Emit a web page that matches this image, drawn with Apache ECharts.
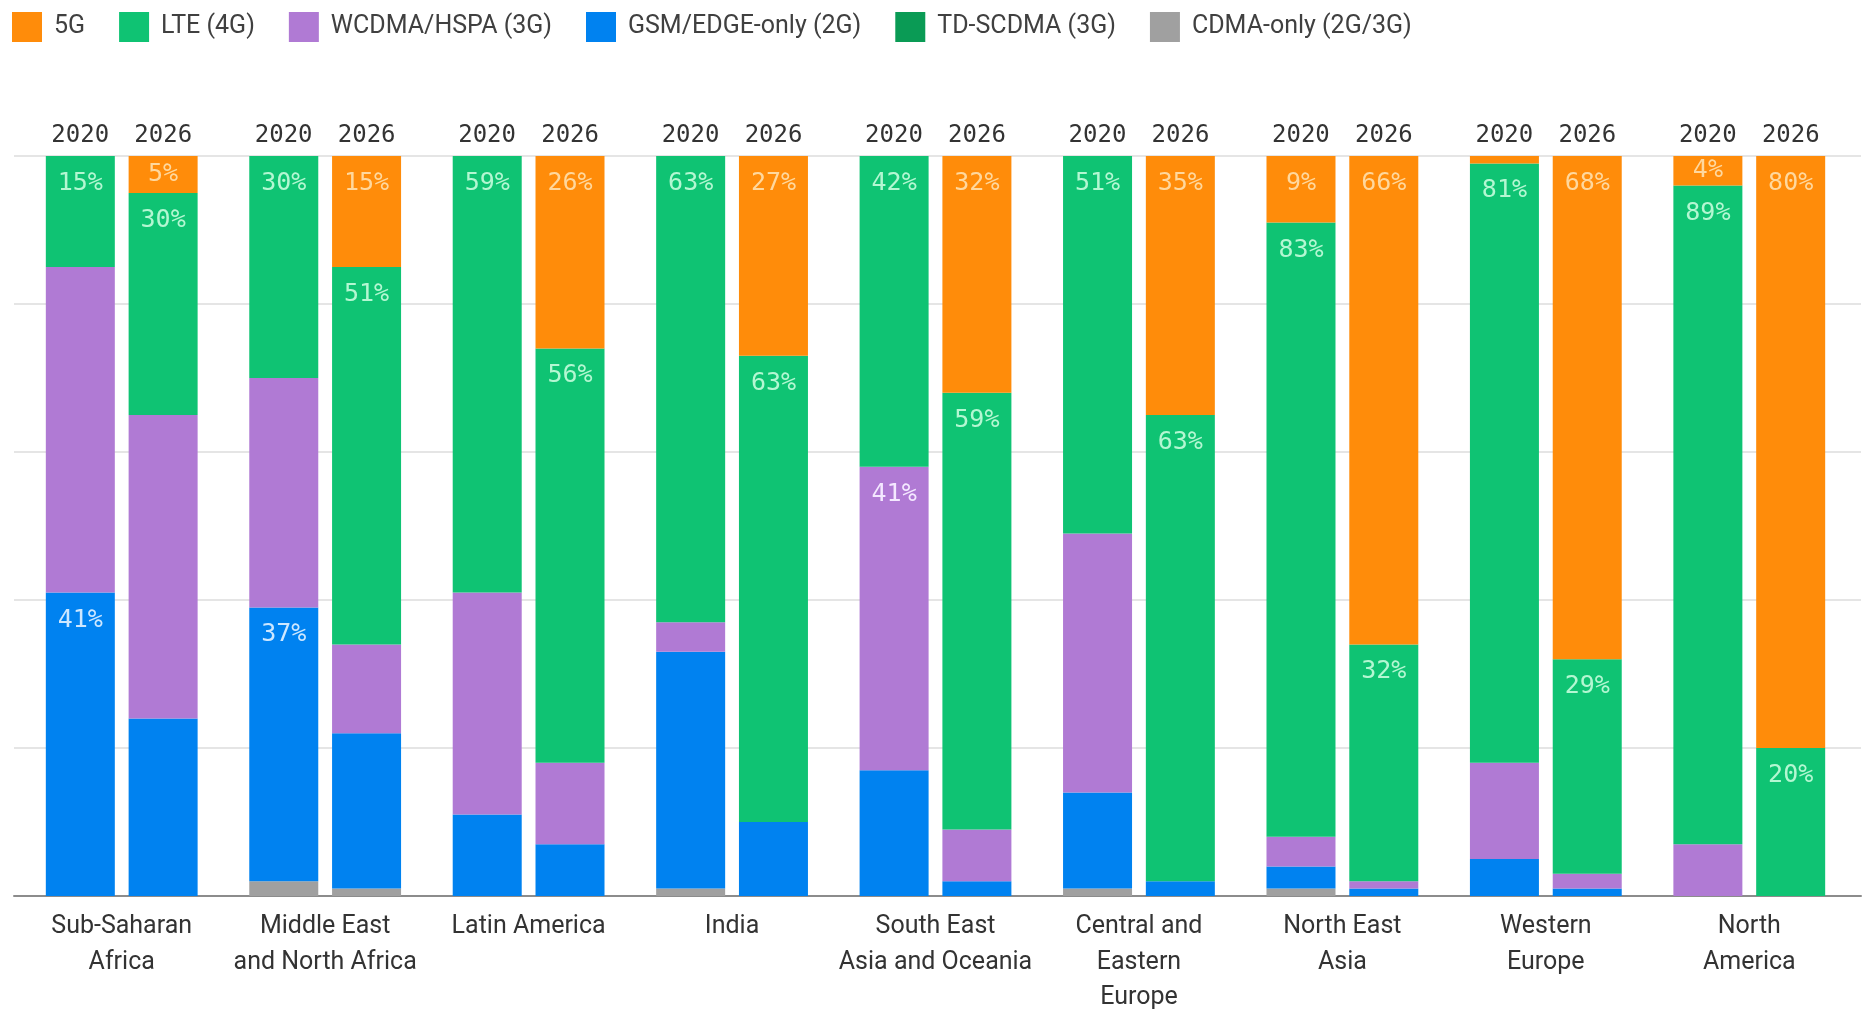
<!DOCTYPE html>
<html>
<head>
<meta charset="utf-8">
<script src="https://cdn.jsdelivr.net/npm/echarts@6/dist/echarts.min.js"></script>
<style>html, body { margin: 0; padding: 0; background: #fff; }</style>
</head>
<body>
<div id="main" style="width: 1864px; height: 1009px"></div>
<script>
const regions = ['Sub-Saharan\nAfrica', 'Middle East\nand North Africa', 'Latin America', 'India',
  'South East\nAsia and Oceania', 'Central and\nEastern\nEurope', 'North East\nAsia', 'Western\nEurope', 'North\nAmerica'];
const years = ['2020', '2026'];
const techs = ['5G', 'LTE (4G)', 'WCDMA/HSPA (3G)', 'GSM/EDGE-only (2G)', 'TD-SCDMA (3G)', 'CDMA-only (2G/3G)'];

// share of subscriptions, %, per region
const fiveG2020 = [0, 0, 0, 0, 0, 0, 9, 1, 4];
const lte2020   = [15, 30, 59, 63, 42, 51, 83, 81, 89];
const wcdma2020 = [44, 31, 30, 4, 41, 35, 4, 13, 7];
const gsm2020   = [41, 37, 11, 32, 17, 13, 3, 5, 0];
const td2020    = [0, 0, 0, 0, 0, 0, 0, 0, 0];
const cdma2020  = [0, 2, 0, 1, 0, 1, 1, 0, 0];

const fiveG2026 = [5, 15, 26, 27, 32, 35, 66, 68, 80];
const lte2026   = [30, 51, 56, 63, 59, 63, 32, 29, 20];
const wcdma2026 = [41, 12, 11, 0, 7, 0, 1, 2, 0];
const gsm2026   = [24, 21, 7, 10, 2, 2, 1, 1, 0];
const td2026    = [0, 0, 0, 0, 0, 0, 0, 0, 0];
const cdma2026  = [0, 1, 0, 0, 0, 0, 0, 0, 0];

// 5G and LTE always carry a value label, these others too
const extraLabels = ['2020|GSM/EDGE-only (2G)|0', '2020|GSM/EDGE-only (2G)|1', '2020|WCDMA/HSPA (3G)|4'];

const table = {
  '2020': { '5G': fiveG2020, 'LTE (4G)': lte2020, 'WCDMA/HSPA (3G)': wcdma2020,
            'GSM/EDGE-only (2G)': gsm2020, 'TD-SCDMA (3G)': td2020, 'CDMA-only (2G/3G)': cdma2020 },
  '2026': { '5G': fiveG2026, 'LTE (4G)': lte2026, 'WCDMA/HSPA (3G)': wcdma2026,
            'GSM/EDGE-only (2G)': gsm2026, 'TD-SCDMA (3G)': td2026, 'CDMA-only (2G/3G)': cdma2026 }
};

const colors = {
  '5G': '#FF8C0A', 'LTE (4G)': '#0FC373', 'WCDMA/HSPA (3G)': '#B07AD4',
  'GSM/EDGE-only (2G)': '#0082F0', 'TD-SCDMA (3G)': '#0A9B55', 'CDMA-only (2G/3G)': '#A0A0A0'
};
const labelColors = {
  '5G': '#FFD89E', 'LTE (4G)': '#B4F7D2', 'WCDMA/HSPA (3G)': '#F4E8FF',
  'GSM/EDGE-only (2G)': '#CDE7FF', 'TD-SCDMA (3G)': '#B4F7D2', 'CDMA-only (2G/3G)': '#eeeeee'
};

// bottom of the stack first
const stackOrder = techs.slice().reverse();

const series = [];
years.forEach(year => {
  stackOrder.forEach(tech => {
    series.push({
      name: tech,
      type: 'bar',
      stack: year,
      xAxisIndex: 1,
      yAxisIndex: 1,
      barWidth: 69,
      barGap: '20%',
      itemStyle: { color: colors[tech] },
      label: {
        position: 'insideTop',
        distance: 15,
        color: labelColors[tech],
        fontFamily: 'DejaVu Sans Mono',
        fontSize: 25,
        formatter: p => p.value + '%'
      },
      data: table[year][tech].map((v, i) => {
        const shown = v > 0 && ((tech === '5G' && v >= 3) || tech === 'LTE (4G)' ||
          extraLabels.indexOf(year + '|' + tech + '|' + i) >= 0);
        return { value: v, label: { show: shown, position: v <= 5 ? 'inside' : 'insideTop' } };
      })
    });
  });
});

const rich = {};
years.forEach((y, k) => {
  rich['y' + k] = { width: 83, align: 'center', fontFamily: 'DejaVu Sans Mono', fontSize: 24, color: '#333', lineHeight: 28 };
});

const chart = echarts.init(document.getElementById('main'));
chart.setOption({
  animation: false,
  backgroundColor: '#fff',
  legend: {
    left: 12,
    top: 12,
    padding: 0,
    icon: 'rect',
    itemWidth: 30,
    itemHeight: 30,
    itemGap: 34,
    data: techs,
    textStyle: { fontFamily: 'Roboto', fontSize: 25, color: '#404040', padding: [0, 0, 0, 7] }
  },
  grid: [
    { left: 14, right: 3, top: 156, bottom: 113, outerBoundsMode: 'none' },
    { left: 20, right: 13, top: 156, bottom: 113, outerBoundsMode: 'none' }
  ],
  xAxis: [
    { gridIndex: 0, type: 'value', min: 0, max: 1,
      axisLine: { show: true, lineStyle: { color: '#8c8c8c', width: 2 } },
      axisTick: { show: false }, axisLabel: { show: false }, splitLine: { show: false } },
    { gridIndex: 1, type: 'category', data: regions, position: 'bottom',
      axisLine: { show: false }, axisTick: { show: false },
      axisLabel: { interval: 0, margin: 13, fontFamily: 'Roboto', fontSize: 25, color: '#333', lineHeight: 35.6 } },
    { gridIndex: 1, type: 'category', data: regions, position: 'top',
      axisLine: { show: false }, axisTick: { show: false },
      axisLabel: { interval: 0, margin: 6, formatter: () => years.map((y, k) => '{y' + k + '|' + y + '}').join(''), rich: rich } }
  ],
  yAxis: [
    { gridIndex: 0, type: 'value', min: 0, max: 100, interval: 20,
      axisLine: { show: false }, axisTick: { show: false }, axisLabel: { show: false },
      splitLine: { lineStyle: { color: '#dcdcdc', width: 1.5 } } },
    { gridIndex: 1, type: 'value', min: 0, max: 100, show: false }
  ],
  series: series
});
</script>
</body>
</html>
